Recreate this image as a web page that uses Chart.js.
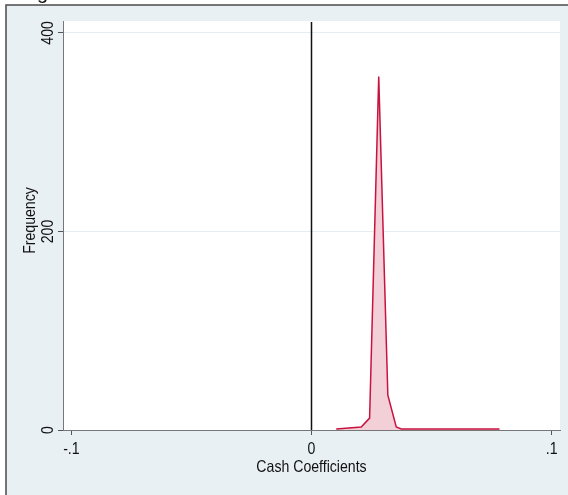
<!DOCTYPE html>
<html>
<head>
<meta charset="utf-8">
<script src="https://cdn.jsdelivr.net/npm/chart.js@4"></script>
<style>
  html, body { margin: 0; padding: 0; background: #fff; }
</style>
</head>
<body>
<canvas id="c" width="568" height="495"></canvas>
<script>
// frequency polygon of the cash coefficients
const coefX = [0.0103, 0.0207, 0.0242, 0.0280, 0.0318, 0.0353, 0.0374, 0.0783];
const freq = [1, 3, 12, 356, 35, 3, 1, 1];
const xTicks = [-0.1, 0, 0.1];
const yTicks = [0, 200, 400];
const refLineX = 0;
const xTitle = "Cash Coefficients";
const yTitle = "Frequency";

const FONT = "16.5px 'Liberation Sans', Arial, sans-serif";
const NARROW = 0.855; // the original uses a condensed helvetica
const fmt = v => (v === 0 ? "0" : String(v).replace("0.", "."));

function label(ctx, text, x, y, vertical) {
  ctx.save();
  ctx.translate(x, y);
  if (vertical) ctx.rotate(-Math.PI / 2);
  ctx.scale(NARROW, 1);
  ctx.fillText(text, 0, 0);
  ctx.restore();
}

// stata-ish graph region, plot region, x=0 line and the texts
const frame = {
  id: "frame",
  beforeDraw(chart) {
    const { ctx, chartArea: a } = chart;
    ctx.save();
    ctx.fillStyle = "#fff";
    ctx.fillRect(0, 0, 568, 495);
    ctx.fillStyle = "#e9f0f3";
    ctx.fillRect(6, 5, 562, 490);
    ctx.strokeStyle = "#4a4a4a";
    ctx.lineWidth = 1.5;
    ctx.beginPath();
    ctx.moveTo(6, 495);
    ctx.lineTo(6, 5);
    ctx.lineTo(568, 5);
    ctx.stroke();
    ctx.fillStyle = "#fff";
    ctx.fillRect(a.left, a.top, a.right - a.left, a.bottom - a.top);
    // descender of the title that was cropped off
    ctx.fillStyle = "#111";
    ctx.font = "20px 'Liberation Sans', Arial, sans-serif";
    ctx.fillText("g", 37, -1);
    ctx.restore();
  },
  afterDatasetsDraw(chart) {
    const { ctx, chartArea: a, scales } = chart;
    const px = scales.x.getPixelForValue(refLineX);
    ctx.save();
    ctx.strokeStyle = "#111";
    ctx.lineWidth = 1.5;
    ctx.beginPath();
    ctx.moveTo(px, a.top + 1);
    ctx.lineTo(px, a.bottom);
    ctx.stroke();
    ctx.restore();
  },
  afterDraw(chart) {
    const { ctx, chartArea: a, scales } = chart;
    ctx.save();
    ctx.fillStyle = "#111";
    ctx.font = FONT;
    ctx.textAlign = "center";
    ctx.textBaseline = "alphabetic";
    scales.x.ticks.forEach(t => {
      label(ctx, fmt(t.value), scales.x.getPixelForValue(t.value), 453.5, false);
    });
    label(ctx, xTitle, (a.left + a.right) / 2, 471.5, false);
    scales.y.ticks.forEach(t => {
      label(ctx, String(t.value), 52.5, scales.y.getPixelForValue(t.value), true);
    });
    label(ctx, yTitle, 35, (a.top + a.bottom) / 2 - 5, true);
    ctx.restore();
  }
};

new Chart(document.getElementById("c"), {
  type: "scatter",
  data: {
    datasets: [{
      data: coefX.map((x, i) => ({ x: x, y: freq[i] })),
      showLine: true,
      fill: "origin",
      borderColor: "#c8123f",
      backgroundColor: "#f3cfd7",
      borderWidth: 1.5,
      pointRadius: 0,
      tension: 0
    }]
  },
  options: {
    responsive: false,
    animation: false,
    devicePixelRatio: 1,
    layout: { padding: { left: 0, top: 21, right: 8, bottom: 0 } },
    plugins: { legend: { display: false }, tooltip: { enabled: false } },
    scales: {
      x: {
        type: "linear",
        min: -0.1035,
        max: 0.1035,
        afterBuildTicks: s => { s.ticks = xTicks.map(v => ({ value: v })); },
        afterFit: s => { s.height = 65; },
        grid: { drawOnChartArea: false, tickLength: 5, tickColor: "#555", color: "#555" },
        border: { color: "#777", width: 1 },
        ticks: { display: false }
      },
      y: {
        min: 0,
        max: 412,
        afterBuildTicks: s => { s.ticks = yTicks.map(v => ({ value: v })); },
        afterFit: s => { s.width = 63; },
        grid: { color: "#e6eef1", tickColor: "#555", tickLength: 5 },
        border: { color: "#777", width: 1 },
        ticks: { display: false }
      }
    }
  },
  plugins: [frame]
});
</script>
</body>
</html>
